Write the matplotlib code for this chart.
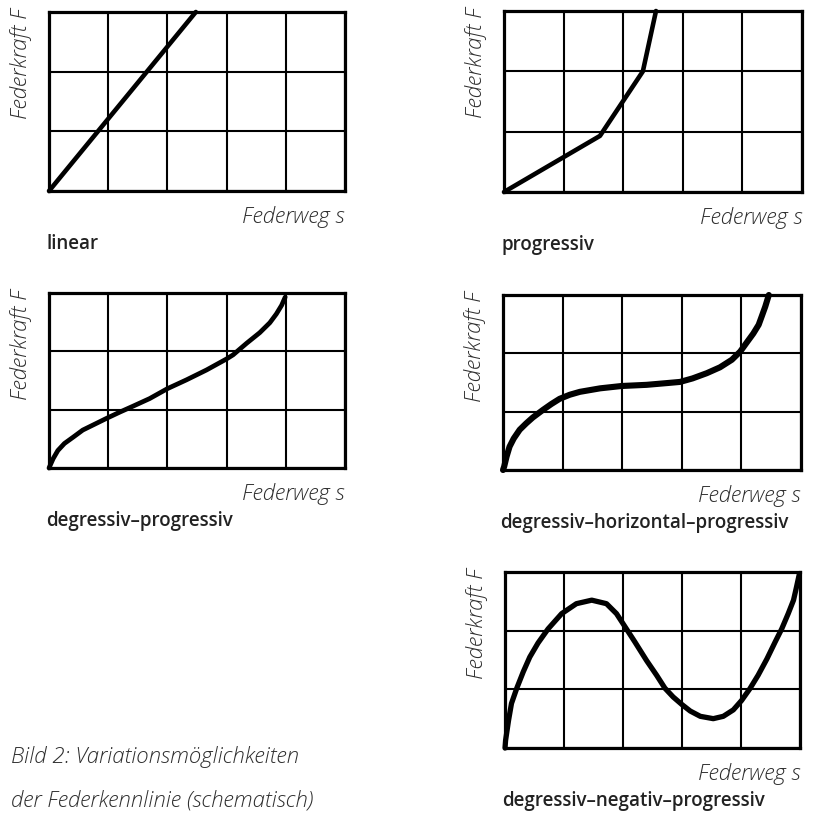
import matplotlib.pyplot as plt
from matplotlib import font_manager

# Federkennlinien, schematisch: s in Rastereinheiten (0..5), F in Rastereinheiten (0..3)
lin_s = [0.0, 2.48]
lin_F = [0.0, 3.0]

prog_s = [0.0, 1.61, 2.33, 2.55]
prog_F = [0.0, 0.93, 2.0, 3.0]

dp_s = [0.0, 0.07, 0.15, 0.26, 0.41, 0.57, 0.77, 0.97, 1.2, 1.42, 1.7, 2.0, 2.32, 2.66,
        3.0, 3.11, 3.34, 3.56, 3.73, 3.84, 3.93, 3.99]
dp_F = [0.0, 0.16, 0.3, 0.42, 0.53, 0.65, 0.75, 0.85, 0.96, 1.06, 1.19, 1.36, 1.51, 1.68,
        1.87, 1.94, 2.14, 2.32, 2.49, 2.64, 2.79, 2.93]

dhp_s = [0.0, 0.02, 0.06, 0.11, 0.18, 0.28, 0.39, 0.5, 0.67, 0.81, 0.95, 1.12, 1.29, 1.63,
         1.99, 2.41, 2.75, 2.97, 3.18, 3.42, 3.64, 3.84, 3.98, 4.1, 4.2, 4.29, 4.34, 4.4, 4.46]
dhp_F = [0.0, 0.06, 0.23, 0.4, 0.54, 0.69, 0.8, 0.9, 1.03, 1.13, 1.22, 1.29, 1.34, 1.4,
         1.44, 1.46, 1.49, 1.51, 1.57, 1.66, 1.76, 1.89, 2.03, 2.2, 2.34, 2.49, 2.63, 2.8, 3.0]

dnp_s = [0.0, 0.01, 0.06, 0.11, 0.2, 0.31, 0.42, 0.56, 0.73, 0.96, 1.21, 1.47, 1.72, 1.89,
         2.0, 2.2, 2.4, 2.57, 2.71, 2.85, 3.0, 3.14, 3.31, 3.53, 3.7, 3.87, 4.01, 4.15,
         4.29, 4.44, 4.58, 4.69, 4.8, 4.89, 4.94, 4.99]
dnp_F = [0.0, 0.13, 0.47, 0.76, 1.02, 1.3, 1.55, 1.79, 2.03, 2.29, 2.46, 2.52, 2.46, 2.29,
         2.12, 1.81, 1.49, 1.24, 1.02, 0.87, 0.74, 0.63, 0.54, 0.5, 0.54, 0.65, 0.81, 1.01,
         1.24, 1.52, 1.81, 2.03, 2.29, 2.52, 2.74, 2.97]

names = ['linear', 'progressiv', 'degressiv\u2013progressiv',
         'degressiv\u2013horizontal\u2013progressiv', 'degressiv\u2013negativ\u2013progressiv']
curves = [(lin_s, lin_F), (prog_s, prog_F), (dp_s, dp_F), (dhp_s, dhp_F), (dnp_s, dnp_F)]

# Rahmen in Pixeln: links, rechts, oben, unten
boxes = [(49, 345, 12, 191), (504, 802, 11, 192), (49, 345, 293, 468),
         (503, 801, 295, 470), (505, 800, 572, 748)]
widths = [3.3, 3.3, 3.4, 4.4, 3.8]

W, H = 836, 813
fig = plt.figure(figsize=(W / 100, H / 100), dpi=100)

families = {f.name for f in font_manager.fontManager.ttflist}
fam = 'Open Sans' if 'Open Sans' in families else 'DejaVu Sans'
label_font = dict(family=fam, style='italic', weight='light', color='#2e2e2e')
title_font = dict(family=fam, weight='semibold', color='#222222')


def fx(px):
    return px / W


def fy(py):
    return 1 - py / H


for (s, F), name, (l, r, t, b), lw in zip(curves, names, boxes, widths):
    ax = fig.add_axes([fx(l), fy(b), fx(r) - fx(l), fy(t) - fy(b)])
    ax.set_xlim(0, 5)
    ax.set_ylim(0, 3)
    ax.set_xticks(range(6))
    ax.set_yticks(range(4))
    ax.tick_params(length=0, labelbottom=False, labelleft=False)
    ax.grid(True, color='black', linewidth=1.5)
    for sp in ax.spines.values():
        sp.set_linewidth(2.3)
    ax.plot(s, F, color='black', linewidth=lw, solid_joinstyle='round',
            solid_capstyle='round', clip_on=False, zorder=3)

    fig.text(fx(l - 28), fy(t - 4), 'Federkraft F', rotation=90, ha='center', va='top',
             fontsize=16, **label_font)
    fig.text(fx(r), fy(b + 32), 'Federweg s', ha='right', va='baseline',
             fontsize=16, **label_font)
    fig.text(fx(l - 3), fy(b + 58), name, ha='left', va='baseline', fontsize=13.5, **title_font)

fig.text(fx(11), fy(763), 'Bild 2: Variationsm\u00f6glichkeiten', ha='left', va='baseline',
         fontsize=16, **label_font)
fig.text(fx(11), fy(806), 'der Federkennlinie (schematisch)', ha='left', va='baseline',
         fontsize=16, **label_font)

fig.savefig('out.png', dpi=100)
